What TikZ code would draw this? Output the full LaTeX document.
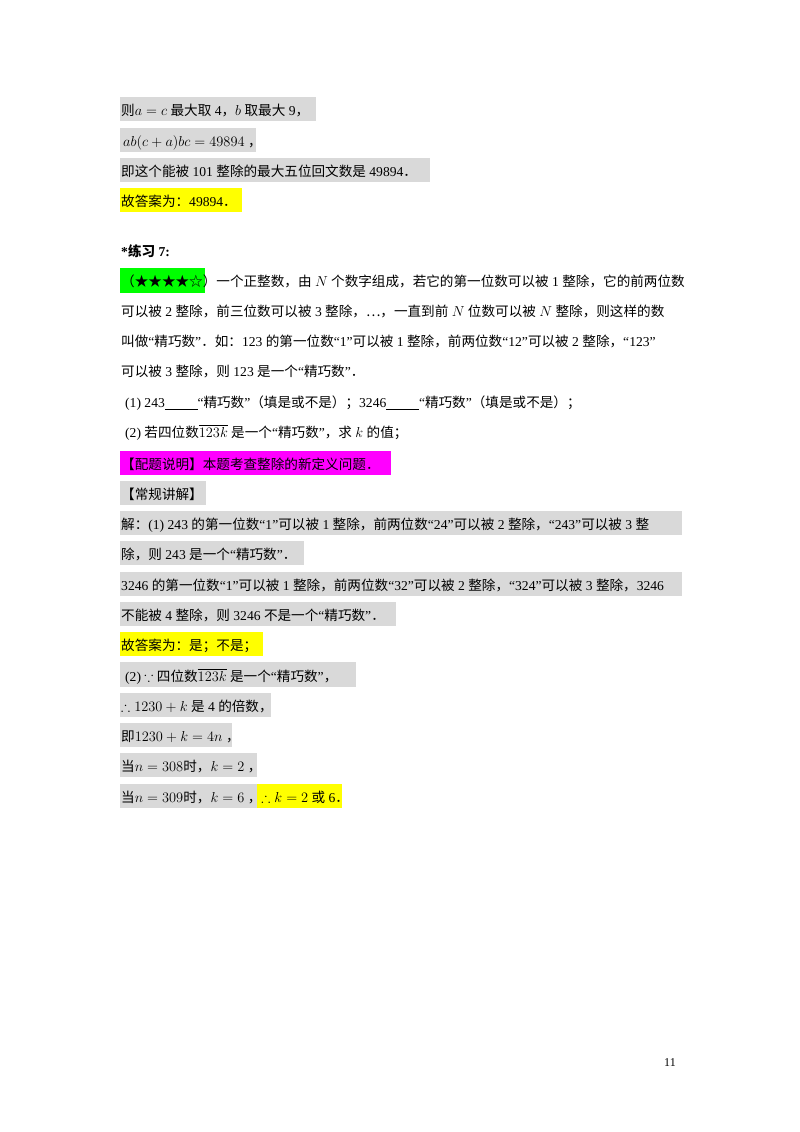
\documentclass[tikz,border=0pt]{standalone}
\usepackage{amssymb}
\usepackage{fontspec}
\setmainfont{Liberation Serif}
\newfontfamily\cjk{Noto Sans CJK SC}
\newfontfamily\lat{Liberation Serif}
\XeTeXinterchartokenstate=1
\newXeTeXintercharclass\cjkclass
\count255="4E00
\loop\XeTeXcharclass\count255=\cjkclass\advance\count255 by 1\ifnum\count255<"9FFF\repeat
\XeTeXcharclass"FF0C=\cjkclass \XeTeXcharclass"FF1A=\cjkclass \XeTeXcharclass"FF1B=\cjkclass
\XeTeXcharclass"FF08=\cjkclass \XeTeXcharclass"FF09=\cjkclass \XeTeXcharclass"3010=\cjkclass
\XeTeXcharclass"3011=\cjkclass \XeTeXcharclass"2605=\cjkclass \XeTeXcharclass"2606=\cjkclass
\XeTeXcharclass"2026=\cjkclass \XeTeXcharclass"3002=\cjkclass \XeTeXcharclass"FF0E=\cjkclass
\XeTeXinterchartoks 0 \cjkclass = {\cjk}
\XeTeXinterchartoks 4095 \cjkclass = {\cjk}
\XeTeXinterchartoks \cjkclass 0 = {\lat}
\XeTeXinterchartoks 4095 0 = {\lat}
\XeTeXinterchartoks \cjkclass 4095 = {\lat}
\definecolor{hgrey}{RGB}{217,217,217}
\definecolor{hyel}{RGB}{255,255,0}
\definecolor{hgreen}{RGB}{0,255,0}
\definecolor{hmag}{RGB}{255,0,255}
\tikzset{ln/.style={anchor=base west,inner sep=0pt,font=\fontsize{13.6}{16}\selectfont}}
\begin{document}
\begin{tikzpicture}[x=1pt,y=-1pt]
\useasboundingbox (0,0) rectangle (800,1132);
\fill[white] (0,0) rectangle (800,1132);
% highlight boxes
\fill[hgrey] (120,97) rectangle (316,121);
\fill[hgrey] (120,128) rectangle (256,152);
\fill[hgrey] (120,158) rectangle (430,182);
\fill[hyel] (120,188) rectangle (242,212);
\fill[hgreen] (120,268) rectangle (205,293);
\fill[hmag] (120,451) rectangle (391,475);
\fill[hgrey] (120,481) rectangle (206,505);
\fill[hgrey] (120,511) rectangle (682,535);
\fill[hgrey] (120,541) rectangle (304,565);
\fill[hgrey] (120,572) rectangle (682,596);
\fill[hgrey] (120,602) rectangle (396,626);
\fill[hyel] (120,632) rectangle (263,656);
\fill[hgrey] (120,662) rectangle (356,687);
\fill[hgrey] (120,693) rectangle (271,717);
\fill[hgrey] (120,723) rectangle (232,747);
\fill[hgrey] (120,753) rectangle (257,777);
\fill[hgrey] (120,784) rectangle (257,808);
\fill[hyel] (257,784) rectangle (342,808);
% text
\node[ln] (t1) at (121,115) {则$a=c$ 最大取 4，$b$ 取最大 9，};
\node[ln] (t2) at (123,146) {$ab(c+a)bc=49894$ ，};
\node[ln] (t3) at (121,176) {即这个能被 101 整除的最大五位回文数是 49894．};
\node[ln] (t4) at (121,206) {故答案为：49894．};
\node[ln] (t5) at (121,256) {\textbf{*}{\cjk\bfseries 练习} \textbf{7:}};
\node[ln] (t6) at (121,286) {（★★★★☆）一个正整数，由 $N$ 个数字组成，若它的第一位数可以被 1 整除，它的前两位数};
\node[ln] (t7) at (121,316) {可以被 2 整除，前三位数可以被 3 整除，…，一直到前 $N$ 位数可以被 $N$ 整除，则这样的数};
\node[ln] (t8) at (121,346) {叫做“精巧数”．如：123 的第一位数“1”可以被 1 整除，前两位数“12”可以被 2 整除，“123”};
\node[ln] (t9) at (121,376) {可以被 3 整除，则 123 是一个“精巧数”．};
\node[ln] (t10) at (125,407) {(1) 243\underline{\hspace{2.4em}}“精巧数”（填是或不是）；3246\underline{\hspace{2.4em}}“精巧数”（填是或不是）；};
\node[ln] (t11) at (125,437) {(2) 若四位数$\overline{123k}$ 是一个“精巧数”，求 $k$ 的值；};
\node[ln] (t12) at (121,469) {【配题说明】本题考查整除的新定义问题．};
\node[ln] (t13) at (121,499) {【常规讲解】};
\node[ln] (t14) at (121,529) {解：(1) 243 的第一位数“1”可以被 1 整除，前两位数“24”可以被 2 整除，“243”可以被 3 整};
\node[ln] (t15) at (121,559) {除，则 243 是一个“精巧数”．};
\node[ln] (t16) at (121,590) {3246 的第一位数“1”可以被 1 整除，前两位数“32”可以被 2 整除，“324”可以被 3 整除，3246};
\node[ln] (t17) at (121,620) {不能被 4 整除，则 3246 不是一个“精巧数”．};
\node[ln] (t18) at (121,650) {故答案为：是；不是；};
\node[ln] (t19) at (125,681) {(2) $\because$ 四位数$\overline{123k}$ 是一个“精巧数”，};
\node[ln] (t20) at (121,711) {$\therefore 1230+k$ 是 4 的倍数，};
\node[ln] (t21) at (121,741) {即$1230+k=4n$ ，};
\node[ln] (t22) at (121,771) {当$n=308$时，$k=2$ ，};
\node[ln] (t23) at (121,802) {当$n=309$时，$k=6$ ，$\therefore k=2$ 或 6．};
\node[ln,font=\fontsize{12}{14}\selectfont] (pg) at (664,1066) {11};
\end{tikzpicture}
\end{document}
